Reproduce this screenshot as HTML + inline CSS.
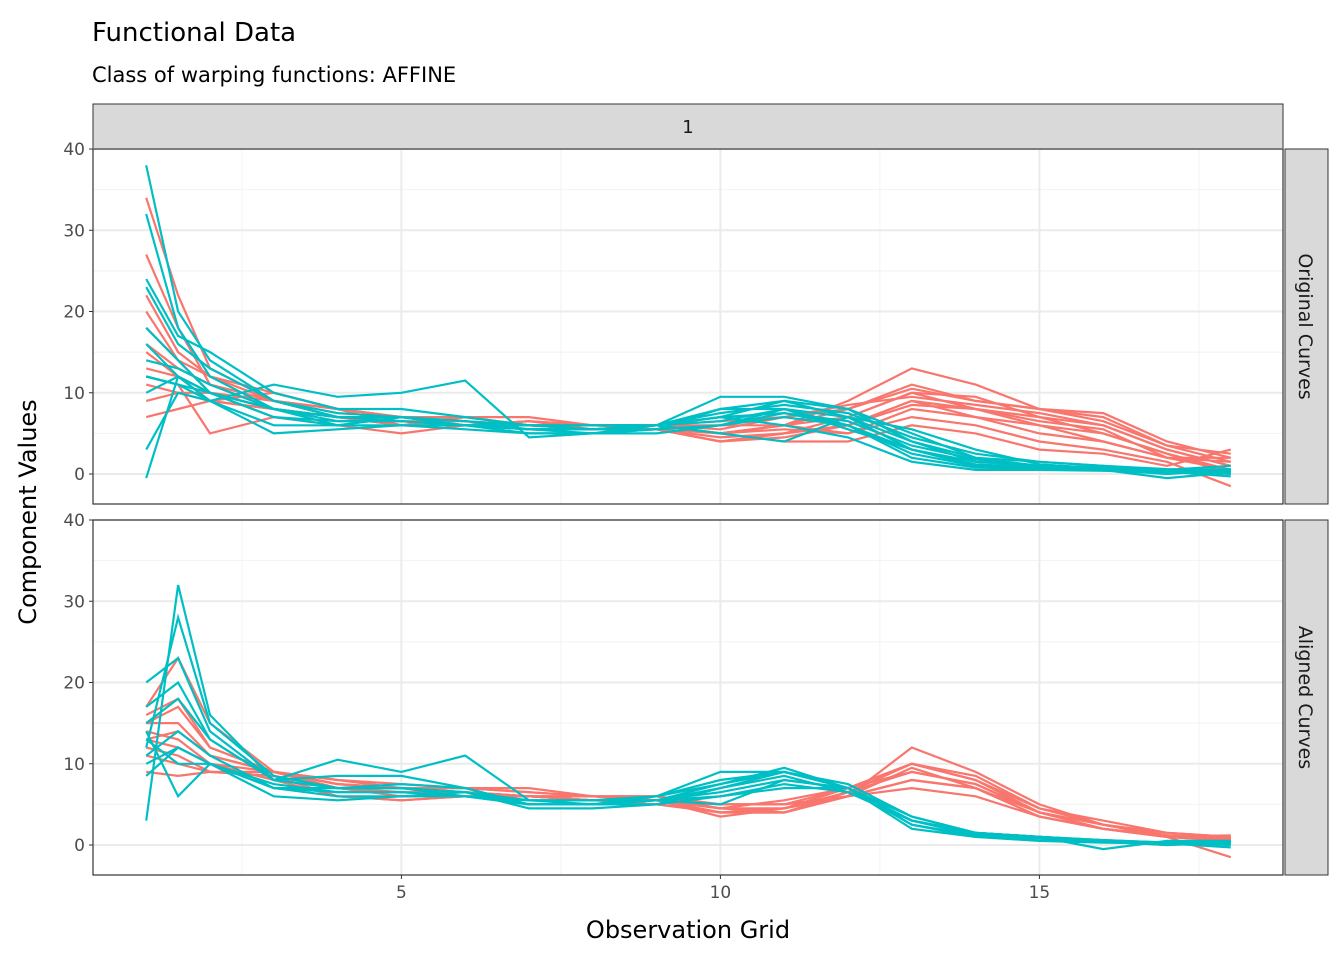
<!DOCTYPE html>
<html><head><meta charset="utf-8"><style>
body{margin:0;background:#fff;font-family:"Liberation Sans","DejaVu Sans",sans-serif}
svg text{font-family:"DejaVu Sans","Liberation Sans",sans-serif}
</style></head><body>
<svg id="c" width="1344" height="960" xmlns="http://www.w3.org/2000/svg">
<text x="92" y="41" font-size="26" fill="#000">Functional Data</text>
<text x="92" y="82" font-size="21" fill="#000">Class of warping functions: AFFINE</text>
<rect x="93" y="104" width="1190" height="45" fill="#D9D9D9" stroke="#333" stroke-width="1"/>
<text x="688" y="133" font-size="18" fill="#1A1A1A" text-anchor="middle">1</text>
<text x="688" y="938" font-size="24" text-anchor="middle">Observation Grid</text>
<text transform="translate(36,512) rotate(-90)" font-size="24" text-anchor="middle">Component Values</text>
<g id="g"></g>
</svg>
<script>
const xGrid=[1,1.5,2,3,4,5,6,7,8,9,10,11,12,13,14,15,16,17,18];
const xTicks=[5,10,15];
const yTicks=[0,10,20,30,40];
const panelNames=["Original Curves","Aligned Curves"];
const origRed=[
[34,22,13,9,7,6,7,6,5.5,6,5,6,9,13,11,8,7.5,4,2],
[27,18,11,8,7,6.5,6,6.5,6,6,5,6,8,11,9,8,7,3.5,1.5],
[22,15,12,9,8,7,6.5,6,6,5.5,4,5,7,10,9.5,7,6,3,1],
[18,14,10,8,7,6,6,6,5.5,5.5,4.5,5,6,9,8,7,5,2.5,0],
[15,12,9,8,7,6.5,6.5,6,6,6,5,5.5,5,8,7,6,4,2,1.5],
[12,11,5,7,6,5,6,6.5,6,6,6,6,5,7,6,4,3,1.5,-1.5],
[9,10,10,9,8,7,7,6,6,6,5,4,4,6,5,3,2.5,1,3],
[7,8,9,10,8,6,7,6,5.5,5.5,4,5,6,9,7,5,4,2,2],
[16,13,11,9,7,6,6,6,5.5,5.5,5,6,7,10,8,6,5,2.5,0.5],
[20,14,12,10,8,7,7,7,6,6,5.5,7,8,10.5,9,8,6.5,3.5,2.5],
[13,12,10,8,7,6.5,6,6.5,5.5,6,6.5,7,8.5,9.5,8.5,7.5,6,3,1],
[11,10,9,8,7,6,6,6,5.5,5.5,4,4.5,6,8.5,8,6.5,5.5,2,0.5]];
const origTeal=[
[38,20,14,9,7,7,6.5,5.5,5.5,6,9.5,9.5,8,4,1.5,1,0.8,0.5,0],
[32,18,12,8,6.5,6.5,6,5.5,5.5,5.5,8,9,7,3,1,1,0.5,-0.5,0.2],
[24,17,15,10,8,8,7,6,5.5,6,7,7.5,6,2,0.8,0.6,0.5,0.3,-0.3],
[-0.5,12,10,8,6,7,6,5,5,5,6,8,5.5,3,1.2,0.8,0.5,0,0.5],
[3,10,9,5,5.5,6,6,6,6,6,7,6,4.5,1.5,0.5,0.5,0.4,0.2,0.2],
[12,11,9,11,9.5,10,11.5,4.5,5,6,8,8,6,2.5,1,0.8,0.5,0.2,0.5],
[18,14,10,7,6,7,6,5.5,5.5,6,5,4,7,4,2,1.5,1,0.5,1],
[14,13,11,8,7,7,6,6,6,6,7,9,8,5,2,1,0.8,0.5,0.5],
[10,12,9,6,6,6,5.5,5,5,5.5,6,7,6,3,1.5,1,0.8,0.3,0.3],
[23,16,13,9,7.5,7,6.5,6,6,6,7.5,8.5,7.5,4.5,2.5,1.5,1,0.6,0.4],
[16,12,10,8,7,6.5,6,5.5,5.5,6,6.5,8,7,5.5,3,1.2,0.7,0.4,0.6],
[12,11,10,7,6.5,6.5,6,5.5,5,5.5,6,7.5,6.5,3.5,1.8,1,0.6,0.2,0.3]];
const alRed=[
[17,23,15,9,8,7.5,7,7,6,6,4.5,4,6,12,9,5,2.5,1.5,1],
[16,18,12,9,8,7,7,6.5,6,6,5,5,7,10,8,4,2,1.2,0.8],
[15,15,11,9,7.5,7,6.5,6,6,5.5,4,4.5,6.5,9,7.5,4,2.5,1,-1.5],
[14,13,10,9,7,6,6,6,5.5,5,4,4,6,8,7,3.5,2,1,0.5],
[13,12,10,8,6,5.5,6,6,6,6,5,5,6,7,6,3.5,2,1,1.2],
[12,11,9,8.5,7,6.5,6.5,6,5.5,5.5,3.5,4.5,7,10,8,4.5,3,1.5,1],
[11,10,9,9,7.5,7,7,6.5,6,5.5,5,5,6,9.5,7,4,2.5,1.2,0.8],
[9,8.5,9,8.5,6,5.5,6,6,5.5,5.5,4.5,4.5,6,8,7,3.5,2,1,0.5],
[15,17,12,9,7.5,7,6.5,6,5.5,5.5,4,4,6.5,10,8.5,4.5,2.5,1.2,0.6],
[13,14,11,9,7,6.5,6.5,6,6,5.5,4.5,5.5,7,9,7.5,4,2,1,0.8]];
const alTeal=[
[3,32,16,8,7,7.5,7,5,5,5.5,7.5,9.5,7,3,1.5,1,0.5,0.3,0],
[12,28,15,8.5,7,7,6.5,5,5,5,7,9,7,3,1.5,1,0.5,0,0.3],
[20,23,14,8,10.5,9,11,5.5,5,6,8,9,7,2.5,1.2,0.8,0.5,0.2,-0.3],
[17,20,13,8,8.5,8.5,7,5,5,5.5,6,7.5,6.5,3,1.5,1,-0.5,0.5,0.5],
[14,6,10,7,6,6,6,5.5,5.5,5.5,5,8,7,2.5,1,0.8,0.4,0,0.4],
[8.5,12,10,6,5.5,6,6.5,4.5,4.5,5,6,7,7,2,1,0.5,0.3,0.2,0.1],
[11,14,11,7,7,7,6,5.5,5.5,6,9,9,7.5,3.5,1.5,1,0.6,0.3,0.4],
[13,10,10,7.5,6.5,6.5,6,5,5,5.5,7,8.5,6.5,3,1.2,0.8,0.5,0.2,0.2],
[15,18,13,8,7,7,6.5,5.5,5.5,6,7.5,9,7,3.5,1.5,1,0.6,0.3,0.3],
[10,12,10,7,6.5,6.5,6,5,5,5.5,6.5,8,7,3,1.3,0.9,0.5,0.2,0.2]];
const panels=[{top:149,bot:504,red:origRed,teal:origTeal},{top:520,bot:875,red:alRed,teal:alTeal}];
const L=93,R=1283;
function xs(v){return 146.2+(v-1)*63.8;}
const g=document.getElementById('g');
const NS='http://www.w3.org/2000/svg';
function mk(t,a){const e=document.createElementNS(NS,t);for(const k in a)e.setAttribute(k,a[k]);g.appendChild(e);return e;}
panels.forEach((p,pi)=>{
  const y0=p.bot-30, k=8.125;
  const ys=v=>y0-v*k;
  const bg=mk('rect',{x:L,y:p.top,width:R-L,height:p.bot-p.top,fill:'#fff'});
  
  
  [2.5,7.5,12.5,17.5].forEach(v=>mk('line',{x1:xs(v),x2:xs(v),y1:p.top,y2:p.bot,stroke:'#F2F2F2','stroke-width':1}));
  [5,15,25,35].forEach(v=>mk('line',{x1:L,x2:R,y1:ys(v),y2:ys(v),stroke:'#F2F2F2','stroke-width':1}));
  xTicks.forEach(v=>mk('line',{x1:xs(v),x2:xs(v),y1:p.top,y2:p.bot,stroke:'#EBEBEB','stroke-width':2}));
  yTicks.forEach(v=>{
    mk('line',{x1:L,x2:R,y1:ys(v),y2:ys(v),stroke:'#EBEBEB','stroke-width':2});
    mk('line',{x1:L-4,x2:L,y1:ys(v),y2:ys(v),stroke:'#333','stroke-width':1});
    const t=mk('text',{x:L-8,y:ys(v)+6,'font-size':17,fill:'#4D4D4D','text-anchor':'end'});
    t.textContent=v;
    
    
  });
  [[p.red,'#F8766D','red'],[p.teal,'#00BFC4','teal']].forEach(([set,col,nm])=>{
    set.forEach(arr=>{
      const d=arr.map((v,i)=>(i?'L':'M')+xs(xGrid[i]).toFixed(1)+','+ys(v).toFixed(1)).join('');
      const pa=mk('path',{d:d,fill:'none',stroke:col,'stroke-width':2.2});
      
      
    });
  });
  mk('rect',{x:L,y:p.top,width:R-L,height:p.bot-p.top,fill:'none',stroke:'#333','stroke-width':1.2});
  const s=mk('rect',{x:1285,y:p.top,width:43,height:p.bot-p.top,fill:'#D9D9D9',stroke:'#333','stroke-width':1});
  
  
  const st=mk('text',{transform:`translate(1299,${(p.top+p.bot)/2}) rotate(90)`,'font-size':19,fill:'#1A1A1A','text-anchor':'middle'});
  st.textContent=panelNames[pi];
  
  
});
xTicks.forEach(v=>{
  mk('line',{x1:xs(v),x2:xs(v),y1:875,y2:879,stroke:'#333','stroke-width':1});
  const t=mk('text',{x:xs(v),y:898,'font-size':17,fill:'#4D4D4D','text-anchor':'middle'});
  t.textContent=v;
  
  
});
</script>
</body></html>
